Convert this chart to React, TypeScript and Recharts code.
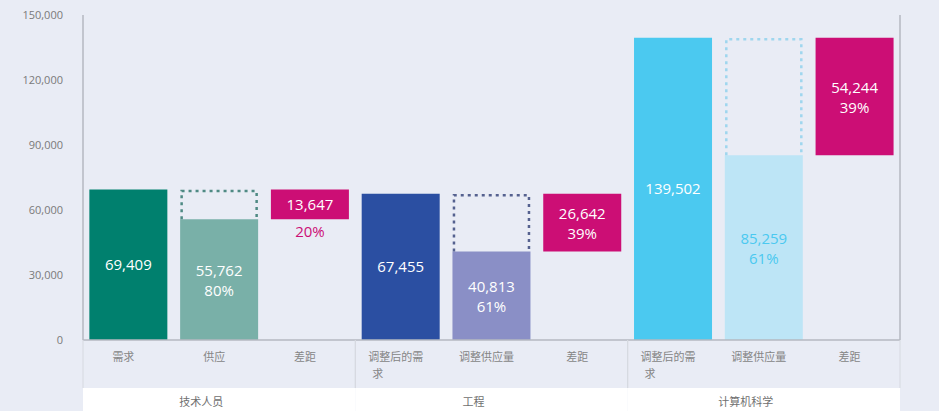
import { Bar, BarChart, Cell, LabelList, XAxis, YAxis } from 'recharts';

document.body.style.margin = '0';

const categories = ['需求', '供应', '差距', '调整后的需求', '调整供应量', '差距', '调整后的需求', '调整供应量', '差距'];
const groups = ['技术人员', '工程', '计算机科学'];
const demand = [69409, 67455, 139502];
const supply = [55762, 40813, 85259];
const gap = [13647, 26642, 54244];
const supplyPct = ['80%', '61%', '61%'];
const gapPct = ['20%', '39%', '39%'];
const yTicks = [0, 30000, 60000, 90000, 120000, 150000];

const demandColors = ['#00806e', '#2b4fa2', '#4bc9f0'];
const supplyColors = ['#79b0a8', '#8a8fc6', '#bde5f6'];
const dashColors = ['#4f8a84', '#55618f', '#9fd6ee'];
const supplyText = ['#ffffff', '#ffffff', '#4bc9f0'];
const gapColor = '#cc0e75';

const W = 939;
const H = 411;
const LEFT = 83;
const RIGHT = 39;
const BAND = (W - LEFT - RIGHT) / categories.length;
const font = '"Open Sans", "Noto Sans CJK SC", sans-serif';
const fmt = (v: number) => v.toLocaleString('en-US');

const rows = groups.flatMap((g, i) => [
  { name: categories[i * 3], group: g, base: 0, value: demand[i], dash: 0, color: demandColors[i], outline: '', lines: [fmt(demand[i])], text: '#ffffff' },
  { name: categories[i * 3 + 1], group: g, base: 0, value: supply[i], dash: demand[i] - supply[i], color: supplyColors[i], outline: dashColors[i], lines: [fmt(supply[i]), supplyPct[i]], text: supplyText[i] },
  { name: categories[i * 3 + 2], group: g, base: supply[i], value: gap[i], dash: 0, color: gapColor, outline: '', lines: [fmt(gap[i]), gapPct[i]], text: '#ffffff' },
]);

const DashBox = (p: any) => {
  const { x, y, width, height, index } = p;
  const r = rows[index];
  if (!height || !r || !r.outline) return null;
  return (
    <path
      d={`M${x + 1.5},${y + height} V${y + 1.5} H${x + width - 1.5} V${y + height}`}
      fill="none"
      stroke={r.outline}
      strokeWidth={2.5}
      strokeDasharray="3 4"
    />
  );
};

const renderLabel = (p: any) => {
  const { x, y, width, height, index } = p;
  const r = rows[index];
  const cx = x + width / 2;
  const common = { textAnchor: 'middle' as const, fontFamily: font, fontSize: 15 };
  if (r.lines.length === 1) {
    return <text x={cx} y={y + height / 2 + 5} fill={r.text} {...common}>{r.lines[0]}</text>;
  }
  if (height < 45) {
    return (
      <g>
        <text x={cx} y={y + height / 2 + 6} fill={r.text} {...common}>{r.lines[0]}</text>
        <text x={cx} y={y + height + 18} fill={gapColor} {...common}>{r.lines[1]}</text>
      </g>
    );
  }
  return (
    <g>
      <text x={cx} y={y + height / 2 - 4} fill={r.text} {...common}>{r.lines[0]}</text>
      <text x={cx} y={y + height / 2 + 16} fill={r.text} {...common}>{r.lines[1]}</text>
    </g>
  );
};

const CategoryTick = (p: any) => {
  const { x, y, payload } = p;
  const label: string = payload.value;
  const first = label.length > 5 ? label.slice(0, 5) : label;
  const rest = label.length > 5 ? label.slice(5) : '';
  const cx = x - 5;
  return (
    <g fontFamily={font} fontSize={11} fill="#858585">
      {rest ? (
        <>
          <text x={cx - (first.length * 11) / 2} y={y + 21}>{first}</text>
          <text x={cx - (first.length * 11) / 2 + 4} y={y + 38}>{rest}</text>
        </>
      ) : (
        <text x={cx} y={y + 21} textAnchor="middle">{first}</text>
      )}
    </g>
  );
};

const GroupTick = (p: any) => {
  const { x, y, index } = p;
  if (index % 3 !== 1) return null;
  const x0 = x - 1.5 * BAND;
  const x1 = x + 1.5 * BAND;
  return (
    <g>
      <rect x={x0} y={y} width={x1 - x0} height={H - y} fill="#ffffff" />
      <line x1={x0} x2={x0} y1={y - 48} y2={y} stroke="#d6d9e0" />
      <line x1={x1} x2={x1} y1={y - 48} y2={y} stroke="#d6d9e0" />
      <text x={x - 18} y={y + 18} textAnchor="middle" fontFamily={font} fontSize={11} fill="#6f6f6f">
        {rows[index].group}
      </text>
    </g>
  );
};

export default function App() {
  return (
    <div style={{ width: W, height: H, background: '#e9ecf5' }}>
      <BarChart
        width={W}
        height={H}
        data={rows}
        margin={{ top: 15, right: 0, bottom: 0, left: 0 }}
        barCategoryGap="7%"
      >
        <XAxis
          dataKey="name"
          xAxisId={0}
          height={48}
          interval={0}
          tickLine={false}
          tickSize={0}
          tickMargin={0}
          stroke="#b4b8c0"
          strokeWidth={1.5}
          tick={<CategoryTick />}
        />
        <XAxis
          dataKey="name"
          xAxisId="group"
          height={23}
          interval={0}
          axisLine={false}
          tickLine={false}
          tickSize={0}
          tickMargin={0}
          tick={<GroupTick />}
        />
        <YAxis
          yAxisId="left"
          width={LEFT}
          domain={[0, 150000]}
          ticks={yTicks}
          tickFormatter={fmt}
          tickLine={false}
          tickSize={0}
          tickMargin={20}
          stroke="#b4b8c0"
          strokeWidth={1.5}
          tick={{ fill: '#7a7a7a', fontSize: 11, fontFamily: font }}
        />
        <YAxis
          yAxisId="right"
          orientation="right"
          width={RIGHT}
          domain={[0, 150000]}
          ticks={yTicks}
          tickFormatter={fmt}
          tickLine={false}
          tickSize={0}
          tickMargin={8}
          stroke="#b4b8c0"
          strokeWidth={1.5}
          tick={{ fill: '#7a7a7a', fontSize: 11, fontFamily: font, textAnchor: 'start' }}
        />
        <Bar dataKey="base" stackId="a" yAxisId="left" fill="transparent" isAnimationActive={false} />
        <Bar dataKey="value" stackId="a" yAxisId="left" isAnimationActive={false}>
          {rows.map((r, i) => (
            <Cell key={i} fill={r.color} />
          ))}
          <LabelList dataKey="value" content={renderLabel} />
        </Bar>
        <Bar dataKey="dash" stackId="a" yAxisId="left" shape={<DashBox />} isAnimationActive={false} />
      </BarChart>
    </div>
  );
}
